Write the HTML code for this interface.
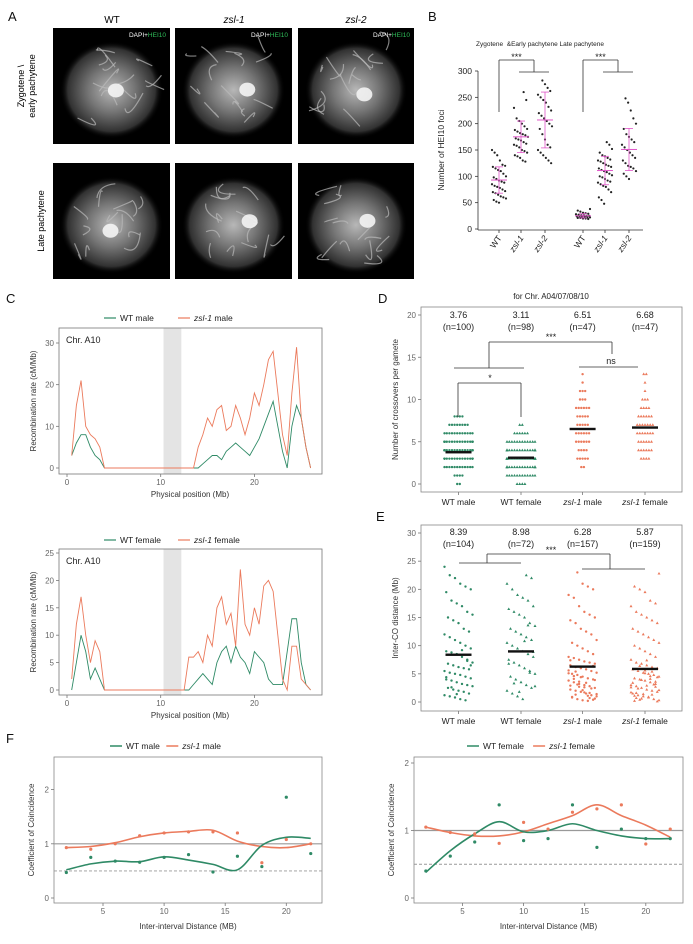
<!DOCTYPE html>
<html><head><meta charset="utf-8">
<style>
html,body{margin:0;padding:0;background:#fff;}
svg{display:block;font-family:"Liberation Sans",Arial,sans-serif;}
.t{fill:#555;font-size:8px;}
.lab{fill:#222;font-size:8.5px;}
.pl{font-size:13px;fill:#111;}
</style></head>
<body>
<svg id="fig" width="693" height="944" viewBox="0 0 693 944" xmlns="http://www.w3.org/2000/svg">
<defs>
<radialGradient id="nuc" cx="50%" cy="50%" r="50%">
<stop offset="0%" stop-color="#d8d8d8"/><stop offset="45%" stop-color="#8a8a8a"/><stop offset="85%" stop-color="#3a3a3a"/><stop offset="100%" stop-color="#000" stop-opacity="0"/>
</radialGradient>
</defs>
<!-- Panel labels -->
<text class="pl" x="8" y="21">A</text>
<text class="pl" x="428" y="21">B</text>
<text class="pl" x="6" y="303">C</text>
<text class="pl" x="378" y="303">D</text>
<text class="pl" x="376" y="521">E</text>
<text class="pl" x="6" y="743">F</text>
<g id="gA">
<text x="112" y="23" font-size="10" text-anchor="middle">WT</text>
<text x="234" y="23" font-size="10" font-style="italic" text-anchor="middle">zsl-1</text>
<text x="356" y="23" font-size="10" font-style="italic" text-anchor="middle">zsl-2</text>
<text transform="translate(28,86) rotate(-90)" font-size="9" text-anchor="middle"><tspan x="0" dy="-4">Zygotene \</tspan><tspan x="0" dy="11">early pachytene</tspan></text>
<text transform="translate(44,221) rotate(-90)" font-size="9" text-anchor="middle">Late pachytene</text>
</g>
<g id="gB"></g>
<g id="gC"></g>
<g id="gD"></g>
<g id="gE"></g>
<g id="gF"></g>
</svg>
<script>
// ---------- DATA ----------
// Panel B
const bGroups = ["WT","zsl-1","zsl-2","WT","zsl-1","zsl-2"];
const bItalic = [false,true,true,false,true,true];
const bWTzyg = [150,145,140,130,122,120,118,115,112,110,105,100,98,95,92,90,88,85,82,80,78,75,72,70,68,65,62,60,58,55,52,50];
const bZsl1zyg = [260,245,230,210,205,200,195,190,188,185,182,180,178,175,172,170,168,165,162,160,158,155,150,148,145,140,138,135,130,128];
const bZsl2zyg = [282,275,268,262,255,250,245,240,232,225,220,215,210,205,200,195,190,180,170,160,155,150,145,140,135,130,125];
const bWTlate = [38,35,33,31,30,29,28,27,26,26,25,25,24,24,23,23,22,22,21,21,20,20,19];
const bZsl1late = [165,160,152,145,140,138,135,132,130,128,125,122,120,118,115,112,110,108,105,102,100,98,95,92,90,88,85,82,80,75,70,60,55,48];
const bZsl2late = [248,240,225,210,200,190,180,175,170,165,160,155,150,145,140,135,130,125,120,118,115,110,105,100,95];
const bSeries = [bWTzyg,bZsl1zyg,bZsl2zyg,bWTlate,bZsl1late,bZsl2late];
const bMeans = [93,175,207,25,111,151];
const bSD = [25,30,53,4,27,40];
const bTicks = [0,50,100,150,200,250,300];

// Panel C
const cPos = [0.5,1,1.5,2,2.5,3,3.5,4,5,6,7,8,9,10,11,12,12.5,13,13.5,14,14.5,15,15.5,16,16.5,17,17.5,18,18.5,19,19.5,20,20.5,21,21.5,22,22.5,23,23.5,24,24.5,25,25.5,26];
const cWTmale =   [3,6,8,8,5,3,2,0,0,0,0,0,0,0,0,0,0,0,0,0,1,2,3,3,2,4,5,6,5,4,3,5,7,10,13,16,10,4,0,10,15,12,5,0];
const cZslMale =  [3,15,21,10,8,7,5,0,0,0,0,0,0,0,0,0,0,0,0,5,8,12,10,14,15,9,10,15,12,8,12,18,15,20,26,28,18,8,3,18,29,12,5,0];
const cWTfemale = [0,5,10,7,2,4,2,0,0,0,0,0,0,0,0,0,0,0,1,2,3,2,1,5,7,8,5,8,6,5,3,7,6,5,2,1,1,1,7,13,13,5,1,0];
const cZslFemale= [2,12,17,10,5,9,7,0,0,0,0,0,0,0,0,0,0,6,6,7,5,10,8,15,17,12,14,8,22,12,10,15,12,19,20,18,10,2,0,8,8,2,1,0];
const cXTicks = [0,10,20];
const cTopYTicks = [0,10,20,30];
const cBotYTicks = [0,5,10,15,20,25];

// Panel D  (count of gametes per crossover number)
const dGroups = ["WT male","WT female","zsl-1 male","zsl-1 female"];
const dMin = [0,0,2,3];
const dWTmale = [2,4,12,16,22,20,12,8,4];
const dWTfemale = [4,12,20,24,18,12,6,2];
const dZslMale = [2,5,4,6,6,5,5,6,3,3,1,1];
const dZslFemale = [4,6,6,7,7,6,4,3,1,1,2];
const dCounts = [dWTmale,dWTfemale,dZslMale,dZslFemale];
const dMeans = [3.76,3.11,6.51,6.68];
const dN = ["(n=100)","(n=98)","(n=47)","(n=47)"];
const dYTicks = [0,5,10,15,20];

// Panel E
const eWTmale = [24,22.5,22,21,20.5,20,19.5,18,17.5,17,16,15.5,15,14.5,14,13,12.5,12,11.5,11,10.5,10,9.5,9,8.8,8.5,8,7.5,7,6.8,6.5,6.2,6,5.8,5.5,5.2,5,4.8,4.5,4.2,4,3.8,3.5,3.2,3,2.8,2.5,2.2,2,1.8,1.5,1.2,1,0.8,0.5,0.3,6.5,4.4,2.6,1.4,9.2,7.3];
const eWTfemale = [22.5,22,21,20,19,18.5,18,17,16.5,16,15.5,15,14,13.5,13,12.5,12,11.5,11,10.5,10,9.5,9,8.5,8,7.5,7,6.5,6,5.5,5,4.5,4,3.5,3,2.5,2,1.5,1,0.5,13.6,8.9,6.8,3.3,1.8,10.8,5.2,2.8];
const eZslMale = [23,21,20.5,20,19,18.5,17,16,15.5,15,14.5,14,13,12.5,12,11,10.5,10,9.5,9,8.5,8,7.8,7.5,7.2,7,6.8,6.5,6.2,6,5.8,5.5,5.2,5,4.8,4.5,4.2,4,3.8,3.5,3.2,3,2.8,2.5,2.2,2,1.8,1.5,1.2,1,0.8,0.5,0.3,0.2,6.4,5.6,4.6,3.6,2.6,1.6,0.6,7.4,5.4,4.4,3.4,2.4,1.4,0.9,3.1,2.1,1.1,0.4,5.1,4.1,2.7,1.7,0.7,3.9,2.9,1.3];
const eZslFemale = [22.8,20.5,20,19.5,18,17.5,17,16,15.5,15,14.5,14,13,12.5,12,11.5,11,10.5,10,9.5,9,8.5,8,7.5,7,6.8,6.5,6.2,6,5.8,5.5,5.2,5,4.8,4.5,4.2,4,3.8,3.5,3.2,3,2.8,2.5,2.2,2,1.8,1.5,1.2,1,0.8,0.5,0.3,0.2,6.4,5.6,4.6,3.6,2.6,1.6,0.6,7.4,5.4,4.4,3.4,2.4,1.4,0.9,3.1,2.1,1.1,0.4,5.1,4.1,2.7,1.7,0.7,3.9,2.9,1.3,0.1];
const eSeries = [eWTmale,eWTfemale,eZslMale,eZslFemale];
const eMeans = [8.39,8.98,6.28,5.87];
const eN = ["(n=104)","(n=72)","(n=157)","(n=159)"];
const eYTicks = [0,5,10,15,20,25,30];

// Panel F
const fDist = [2,4,6,8,10,12,14,16,18,20,22];
const fMaleWTpts = [0.47,0.75,0.68,0.66,0.75,0.8,0.48,0.77,0.58,1.86,0.82];
const fMaleZslPts = [0.93,0.9,1.0,1.15,1.2,1.22,1.22,1.2,0.65,1.08,1.0];
const fMaleWTfit = [0.52,0.63,0.68,0.67,0.76,0.7,0.62,0.52,0.97,1.12,1.1];
const fMaleZslFit = [0.93,0.95,1.02,1.13,1.2,1.23,1.25,1.05,0.95,0.93,1.0];
const fFemWTpts = [0.4,0.62,0.83,1.38,0.85,0.88,1.38,0.75,1.02,0.88,0.88];
const fFemZslPts = [1.05,0.97,0.95,0.81,1.12,1.02,1.27,1.32,1.38,0.8,1.02];
const fFemWTfit = [0.38,0.7,0.95,1.13,0.98,1.0,1.1,1.0,0.92,0.88,0.88];
const fFemZslFit = [1.05,0.97,0.92,0.92,0.98,1.1,1.22,1.38,1.22,1.08,0.9];
const fXTicks = [5,10,15,20];
const fYTicks = [0,1,2];

// ---------- HELPERS ----------
const NS = "http://www.w3.org/2000/svg";
const GREEN = "#2f8a66", ORANGE = "#eb7a5c", MAG = "#e055c8";
function mk(parent, tag, attrs, name, inter) {
  const el = document.createElementNS(NS, tag);
  for (const k in attrs) el.setAttribute(k, attrs[k]);
  
  
  parent.appendChild(el);
  return el;
}
function txt(parent, x, y, s, name, extra) {
  const el = mk(parent, 'text', Object.assign({x: x, y: y}, extra || {}), name, false);
  el.textContent = s;
  return el;
}
function line(p, x1, y1, x2, y2, stroke, w, name, dash) {
  const a = {x1: x1, y1: y1, x2: x2, y2: y2, stroke: stroke, 'stroke-width': w};
  if (dash) a['stroke-dasharray'] = dash;
  return mk(p, 'line', a, name, false);
}
function jit(i, k) { return (((i * 37 + k * 11) % 17) / 16 - 0.5); }
function smoothPath(pts) {
  let d = "M" + pts[0][0] + "," + pts[0][1];
  for (let i = 0; i < pts.length - 1; i++) {
    const p0 = pts[i - 1] || pts[i], p1 = pts[i], p2 = pts[i + 1], p3 = pts[i + 2] || p2;
    const c1x = p1[0] + (p2[0] - p0[0]) / 6, c1y = p1[1] + (p2[1] - p0[1]) / 6;
    const c2x = p2[0] - (p3[0] - p1[0]) / 6, c2y = p2[1] - (p3[1] - p1[1]) / 6;
    d += " C" + c1x + "," + c1y + " " + c2x + "," + c2y + " " + p2[0] + "," + p2[1];
  }
  return d;
}

// ---------- PANEL A ----------
(function () {
  const g = document.getElementById('gA');
  const xs = [53, 175, 298], ws = [117, 117, 116];
  const ys = [28, 163], hs = [116, 116];
  const labels = ["wt", "zsl1", "zsl2"], rows = ["zygotene", "late-pachytene"];
  let seed = 3;
  function rnd() { seed = (seed * 9301 + 49297) % 233280; return seed / 233280; }
  for (let r = 0; r < 2; r++) for (let c = 0; c < 3; c++) {
    const x = xs[c], y = ys[r], w = ws[c], h = hs[r];
    const n = rows[r] + "-" + labels[c];
    mk(g, 'rect', {x: x, y: y, width: w, height: h, fill: '#000'}, 'micrograph-' + n, false);
    mk(g, 'ellipse', {cx: x + w / 2, cy: y + h / 2 + 4, rx: w * 0.44, ry: h * 0.42, fill: 'url(#nuc)', opacity: 0.85}, 'nucleus-' + n, false);
    for (let i = 0; i < 14; i++) {
      const px = x + w * (0.18 + rnd() * 0.64), py = y + h * (0.18 + rnd() * 0.64);
      mk(g, 'path', {d: 'M' + px + ',' + py + ' q' + (rnd() * 30 - 15) + ',' + (rnd() * 30 - 15) + ' ' + (rnd() * 40 - 20) + ',' + (rnd() * 40 - 20), stroke: '#bbb', 'stroke-width': 1.2, fill: 'none', opacity: 0.7}, 'chromosome-' + n, false);
    }
    mk(g, 'ellipse', {cx: x + w * (0.45 + rnd() * 0.2), cy: y + h * (0.4 + rnd() * 0.2), rx: 8, ry: 7, fill: '#f4f4f4', opacity: 0.9}, 'bright-spot-' + n, false);
    if (r === 0) {
      const t = txt(g, x + w - 4, y + 9, 'DAPI+', 'stain-label-' + n, {'font-size': 6.5, fill: '#fff', 'text-anchor': 'end'});
      t.textContent = '';
      const s1 = mk(t, 'tspan', {}, 'dapi-label', false); s1.textContent = 'DAPI+';
      const s2 = mk(t, 'tspan', {fill: '#2fbf5a'}, 'hei10-label', false); s2.textContent = 'HEI10';
    }
  }
})();

// ---------- PANEL B ----------
(function () {
  const g = document.getElementById('gB');
  const y = v => 229 - v * (158 / 300);
  const xc = [499, 521, 545, 583, 605, 629];
  txt(g, 540, 46, 'Zygotene \u00A0&Early pachytene  Late pachytene', 'b-title', {'font-size': 6.5, 'text-anchor': 'middle', fill: '#222'});
  line(g, 478, y(300), 478, 230, '#333', 0.8, 'b-y-axis');
  line(g, 478, 230, 643, 230, '#333', 0.8, 'b-x-axis');
  bTicks.forEach(v => {
    line(g, 475, y(v), 478, y(v), '#333', 0.8, 'b-y-tick');
    txt(g, 472, y(v) + 3, String(v), 'b-y-tick-label', {'font-size': 8.5, 'text-anchor': 'end', fill: '#222'});
  });
  txt(g, 0, 0, 'Number of HEI10 foci', 'b-y-axis-title', {'font-size': 8.5, 'text-anchor': 'middle', fill: '#222', transform: 'translate(444,150) rotate(-90)'});
  bSeries.forEach((arr, k) => {
    arr.forEach((v, i) => {
      mk(g, 'circle', {cx: xc[k] + jit(i, k) * 14, cy: y(v), r: 1.1, fill: '#222'}, 'b-dot', false);
    });
    line(g, xc[k] - 8, y(bMeans[k]), xc[k] + 8, y(bMeans[k]), MAG, 1, 'b-mean-bar');
    line(g, xc[k], y(bMeans[k] - bSD[k]), xc[k], y(bMeans[k] + bSD[k]), MAG, 0.8, 'b-sd-line');
    line(g, xc[k] - 4, y(bMeans[k] - bSD[k]), xc[k] + 4, y(bMeans[k] - bSD[k]), MAG, 0.8, 'b-sd-cap');
    line(g, xc[k] - 4, y(bMeans[k] + bSD[k]), xc[k] + 4, y(bMeans[k] + bSD[k]), MAG, 0.8, 'b-sd-cap');
    line(g, xc[k], 230, xc[k], 233, '#333', 0.8, 'b-x-tick');
    txt(g, 0, 0, bGroups[k], 'b-x-label', {'font-size': 8.5, 'text-anchor': 'end', fill: '#222', 'font-style': bItalic[k] ? 'italic' : 'normal', transform: 'translate(' + (xc[k] + 3) + ',238) rotate(-55)'});
  });
  // significance brackets
  [[0, 1, 2], [3, 4, 5]].forEach((gr, j) => {
    const a = xc[gr[0]], b = xc[gr[1]] - 2, c = xc[gr[2]] + 4, m = (b + c) / 2;
    line(g, a, 112, a, 60, '#333', 0.8, 'b-bracket');
    line(g, a, 60, m, 60, '#333', 0.8, 'b-bracket');
    line(g, m, 60, m, 72, '#333', 0.8, 'b-bracket');
    line(g, b, 72, c, 72, '#333', 0.8, 'b-bracket');
    txt(g, (a + m) / 2, 60, '***', 'b-significance', {'font-size': 9, 'text-anchor': 'middle', fill: '#222'});
  });
})();

// ---------- PANEL C ----------
(function () {
  const g = document.getElementById('gC');
  const x = v => 67 + v * 9.37;
  function plot(top, bot, zero, ppu, yTicks, wt, zs, legWT, legZ, legY, nm) {
    const y = v => zero - v * ppu;
    // legend
    line(g, 104, legY - 3, 116, legY - 3, GREEN, 1.2, nm + '-legend-wt-swatch');
    const l1 = txt(g, 120, legY, legWT, nm + '-legend-wt', {'font-size': 8.5, fill: '#222'});
    line(g, 178, legY - 3, 190, legY - 3, ORANGE, 1.2, nm + '-legend-zsl-swatch');
    const l2 = txt(g, 194, legY, '', nm + '-legend-zsl', {'font-size': 8.5, fill: '#222'});
    const t1 = mk(l2, 'tspan', {'font-style': 'italic'}, nm + '-legend-zsl-italic', false); t1.textContent = 'zsl-1';
    const t2 = mk(l2, 'tspan', {}, nm + '-legend-zsl-sex', false); t2.textContent = legZ;
    mk(g, 'rect', {x: x(10.3), y: top, width: x(12.2) - x(10.3), height: bot - top, fill: '#e4e4e4'}, nm + '-centromere-band', false);
    mk(g, 'rect', {x: 59, y: top, width: 263, height: bot - top, fill: 'none', stroke: '#777', 'stroke-width': 0.8}, nm + '-plot-frame', false);
    txt(g, 66, top + 15, 'Chr. A10', nm + '-chr-label', {'font-size': 9, fill: '#222'});
    yTicks.forEach(v => {
      line(g, 56, y(v), 59, y(v), '#777', 0.8, nm + '-y-tick');
      txt(g, 54, y(v) + 3, String(v), nm + '-y-tick-label', {'font-size': 8, 'text-anchor': 'end', fill: '#666'});
    });
    cXTicks.forEach(v => {
      line(g, x(v), bot, x(v), bot + 3, '#777', 0.8, nm + '-x-tick');
      txt(g, x(v), bot + 11, String(v), nm + '-x-tick-label', {'font-size': 8, 'text-anchor': 'middle', fill: '#666'});
    });
    txt(g, 190, bot + 23, 'Physical position (Mb)', nm + '-x-axis-title', {'font-size': 8, 'text-anchor': 'middle', fill: '#333'});
    txt(g, 0, 0, 'Recombination rate (cM/Mb)', nm + '-y-axis-title', {'font-size': 8, 'text-anchor': 'middle', fill: '#333', transform: 'translate(36,' + ((top + bot) / 2) + ') rotate(-90)'});
    mk(g, 'polyline', {points: cPos.map((p, i) => x(p) + ',' + y(wt[i])).join(' '), fill: 'none', stroke: GREEN, 'stroke-width': 0.9}, nm + '-wt-line', false);
    mk(g, 'polyline', {points: cPos.map((p, i) => x(p) + ',' + y(zs[i])).join(' '), fill: 'none', stroke: ORANGE, 'stroke-width': 0.9}, nm + '-zsl-line', false);
  }
  plot(328, 474, 468, 125 / 30, cTopYTicks, cWTmale, cZslMale, 'WT male', ' male', 321, 'c-male');
  plot(549, 695, 690, 137 / 25, cBotYTicks, cWTfemale, cZslFemale, 'WT female', ' female', 543, 'c-female');
})();

// ---------- PANELS D & E ----------
const dexc = [458.5, 521, 582.6, 645];
function stripFrame(g, top, bot, y, ticks, yTitle, nm) {
  mk(g, 'rect', {x: 421, y: top, width: 261, height: bot - top, fill: 'none', stroke: '#888', 'stroke-width': 0.8}, nm + '-plot-frame', false);
  ticks.forEach(v => {
    line(g, 418, y(v), 421, y(v), '#777', 0.8, nm + '-y-tick');
    txt(g, 416, y(v) + 3, String(v), nm + '-y-tick-label', {'font-size': 8, 'text-anchor': 'end', fill: '#666'});
  });
  txt(g, 0, 0, yTitle, nm + '-y-axis-title', {'font-size': 8, 'text-anchor': 'middle', fill: '#333', transform: 'translate(398,' + ((top + bot) / 2) + ') rotate(-90)'});
  dGroups.forEach((s, k) => {
    line(g, dexc[k], bot, dexc[k], bot + 3, '#777', 0.8, nm + '-x-tick');
    const t = txt(g, dexc[k], bot + 13, '', nm + '-x-label', {'font-size': 8.5, 'text-anchor': 'middle', fill: '#222'});
    if (k >= 2) {
      const a = mk(t, 'tspan', {'font-style': 'italic'}, nm + '-x-label-italic', false); a.textContent = 'zsl-1';
      const b = mk(t, 'tspan', {}, nm + '-x-label-sex', false); b.textContent = k === 2 ? ' male' : ' female';
    } else t.textContent = s;
  });
}
function marker(g, cx, cy, color, tri, nm) {
  if (tri) mk(g, 'path', {d: 'M' + cx + ',' + (cy - 1.6) + ' l1.5,2.6 h-3z', fill: color}, nm, false);
  else mk(g, 'circle', {cx: cx, cy: cy, r: 1.2, fill: color}, nm, false);
}
(function () {
  const g = document.getElementById('gD');
  const y = v => 484 - v * (169 / 20);
  txt(g, 551, 299, 'for Chr. A04/07/08/10', 'd-title', {'font-size': 8, 'text-anchor': 'middle', fill: '#222'});
  stripFrame(g, 307, 492, y, dYTicks, 'Number of crossovers per gamete', 'd');
  dCounts.forEach((counts, k) => {
    const col = k < 2 ? GREEN : ORANGE;
    counts.forEach((c, vi) => {
      const v = dMin[k] + vi;
      for (let i = 0; i < c; i++) {
        const off = (i - (c - 1) / 2) * 2.6;
        marker(g, dexc[k] + Math.max(-14, Math.min(14, off)), y(v), col, k % 2 === 1, 'd-point');
      }
    });
    mk(g, 'rect', {x: dexc[k] - 13, y: y(dMeans[k]) - 1.2, width: 26, height: 2.4, fill: '#111'}, 'd-mean-bar', false);
    txt(g, dexc[k], 318, dMeans[k].toFixed(2), 'd-mean-label', {'font-size': 9, 'text-anchor': 'middle', fill: '#222'});
    txt(g, dexc[k], 330, dN[k], 'd-n-label', {'font-size': 9, 'text-anchor': 'middle', fill: '#222'});
  });
  // brackets
  line(g, 489, 342, 612, 342, '#333', 0.8, 'd-bracket');
  line(g, 489, 342, 489, 368, '#333', 0.8, 'd-bracket');
  line(g, 612, 342, 612, 354, '#333', 0.8, 'd-bracket');
  line(g, 454, 368, 524, 368, '#333', 0.8, 'd-bracket');
  line(g, 579, 367, 638, 367, '#333', 0.8, 'd-bracket');
  txt(g, 551, 340, '***', 'd-significance', {'font-size': 9, 'text-anchor': 'middle', fill: '#222'});
  txt(g, 611, 364, 'ns', 'd-ns-label', {'font-size': 9, 'text-anchor': 'middle', fill: '#222'});
  line(g, 458, 383, 521, 383, '#333', 0.8, 'd-bracket');
  line(g, 458, 383, 458, 417, '#333', 0.8, 'd-bracket');
  line(g, 521, 383, 521, 417, '#333', 0.8, 'd-bracket');
  txt(g, 490, 381, '*', 'd-significance-star', {'font-size': 9, 'text-anchor': 'middle', fill: '#222'});
})();
(function () {
  const g = document.getElementById('gE');
  const y = v => 702 - v * (169 / 30);
  stripFrame(g, 525, 711, y, eYTicks, 'Inter-CO distance (Mb)', 'e');
  eSeries.forEach((arr, k) => {
    const col = k < 2 ? GREEN : ORANGE;
    arr.forEach((v, i) => marker(g, dexc[k] + jit(i, k) * 28, y(v), col, k % 2 === 1, 'e-point'));
    mk(g, 'rect', {x: dexc[k] - 13, y: y(eMeans[k]) - 1.2, width: 26, height: 2.4, fill: '#111'}, 'e-mean-bar', false);
    txt(g, dexc[k], 535, eMeans[k].toFixed(2), 'e-mean-label', {'font-size': 9, 'text-anchor': 'middle', fill: '#222'});
    txt(g, dexc[k], 547, eN[k], 'e-n-label', {'font-size': 9, 'text-anchor': 'middle', fill: '#222'});
  });
  line(g, 459, 563, 521, 563, '#333', 0.8, 'e-bracket');
  line(g, 487, 563, 487, 554, '#333', 0.8, 'e-bracket');
  line(g, 487, 554, 610, 554, '#333', 0.8, 'e-bracket');
  line(g, 610, 554, 610, 569, '#333', 0.8, 'e-bracket');
  line(g, 582, 569, 645, 569, '#333', 0.8, 'e-bracket');
  txt(g, 551, 553, '***', 'e-significance', {'font-size': 9, 'text-anchor': 'middle', fill: '#222'});
})();

// ---------- PANEL F ----------
(function () {
  const g = document.getElementById('gF');
  function plot(x0, x1, zero, ppu, xAt5, wtP, zsP, wtF, zsF, legWT, legZ, legX, nm) {
    const y = v => zero - v * ppu;
    const x = v => xAt5 + (v - 5) * 12.22;
    const top = 757, bot = 903;
    line(g, legX, 746, legX + 12, 746, GREEN, 1.5, nm + '-legend-wt-swatch');
    txt(g, legX + 16, 749, legWT, nm + '-legend-wt', {'font-size': 8.5, fill: '#222'});
    const sx = legX + 16 + legWT.length * 4.9 + 6;
    line(g, sx, 746, sx + 12, 746, ORANGE, 1.5, nm + '-legend-zsl-swatch');
    const t = txt(g, sx + 16, 749, '', nm + '-legend-zsl', {'font-size': 8.5, fill: '#222'});
    const a = mk(t, 'tspan', {'font-style': 'italic'}, nm + '-legend-zsl-italic', false); a.textContent = 'zsl-1';
    const b = mk(t, 'tspan', {}, nm + '-legend-zsl-sex', false); b.textContent = legZ;
    mk(g, 'rect', {x: x0, y: top, width: x1 - x0, height: bot - top, fill: 'none', stroke: '#888', 'stroke-width': 0.8}, nm + '-plot-frame', false);
    fYTicks.forEach(v => {
      line(g, x0 - 3, y(v), x0, y(v), '#777', 0.8, nm + '-y-tick');
      txt(g, x0 - 5, y(v) + 3, String(v), nm + '-y-tick-label', {'font-size': 8, 'text-anchor': 'end', fill: '#666'});
    });
    fXTicks.forEach(v => {
      line(g, x(v), bot, x(v), bot + 3, '#777', 0.8, nm + '-x-tick');
      txt(g, x(v), bot + 11, String(v), nm + '-x-tick-label', {'font-size': 8, 'text-anchor': 'middle', fill: '#666'});
    });
    txt(g, (x0 + x1) / 2, 929, 'Inter-interval Distance (MB)', nm + '-x-axis-title', {'font-size': 8, 'text-anchor': 'middle', fill: '#333'});
    txt(g, 0, 0, 'Coefficient of Coincidence', nm + '-y-axis-title', {'font-size': 8, 'text-anchor': 'middle', fill: '#333', transform: 'translate(' + (x0 - 20) + ',830) rotate(-90)'});
    line(g, x0, y(1), x1, y(1), '#999', 1.2, nm + '-reference-line');
    line(g, x0, y(0.5), x1, y(0.5), '#999', 0.9, nm + '-half-line', '3,2');
    mk(g, 'path', {d: smoothPath(fDist.map((d, i) => [x(d), y(zsF[i])])), fill: 'none', stroke: ORANGE, 'stroke-width': 1.6}, nm + '-zsl-fit', false);
    mk(g, 'path', {d: smoothPath(fDist.map((d, i) => [x(d), y(wtF[i])])), fill: 'none', stroke: GREEN, 'stroke-width': 1.6}, nm + '-wt-fit', false);
    fDist.forEach((d, i) => {
      mk(g, 'circle', {cx: x(d), cy: y(zsP[i]), r: 1.6, fill: ORANGE}, nm + '-zsl-point', false);
      mk(g, 'circle', {cx: x(d), cy: y(wtP[i]), r: 1.6, fill: GREEN}, nm + '-wt-point', false);
    });
  }
  plot(54, 322, 898, 54.2, 103, fMaleWTpts, fMaleZslPts, fMaleWTfit, fMaleZslFit, 'WT male', ' male', 110, 'f-male');
  plot(414, 683, 898, 67.5, 462.5, fFemWTpts, fFemZslPts, fFemWTfit, fFemZslFit, 'WT female', ' female', 467, 'f-female');
})();
</script>
</body></html>
